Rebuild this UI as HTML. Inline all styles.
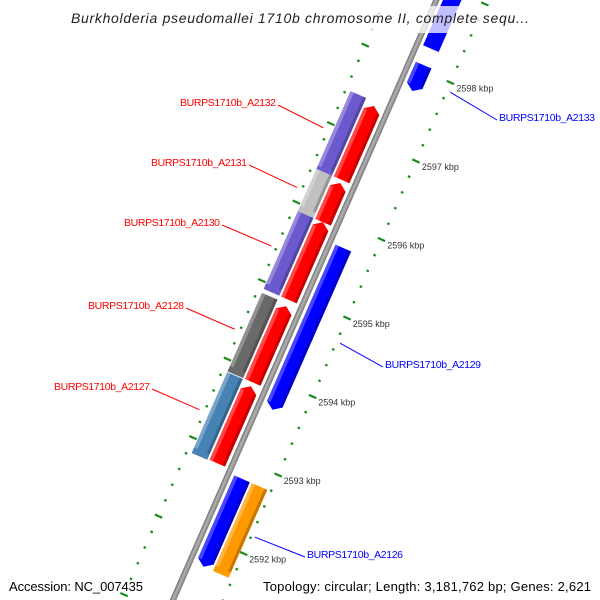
<!DOCTYPE html>
<html><head><meta charset="utf-8"><style>
html,body{margin:0;padding:0;background:#fff;overflow:hidden;width:600px;height:600px;}
svg{display:block;overflow:hidden;font-family:"Liberation Sans","DejaVu Sans",sans-serif;}
</style></head><body>
<svg id="map" width="600" height="600" viewBox="0 0 600 600" xmlns="http://www.w3.org/2000/svg">
<defs>
<linearGradient id="bbgrad" x1="0" x2="1" y1="0" y2="0">
<stop offset="0" stop-color="#6f6f6f"/><stop offset="0.45" stop-color="#b4b4b4"/><stop offset="1" stop-color="#777"/>
</linearGradient>
<clipPath id="frame"><rect x="0" y="0" width="600" height="600"/></clipPath>
</defs>
<rect width="600" height="600" fill="#fff"/>
<g clip-path="url(#frame)">
<g id="rot" transform="translate(436.4,0) rotate(23.7)"></g>
<g id="ann"></g>
</g>
<rect x="62" y="6" width="476" height="27" fill="#fff" fill-opacity="0.75"/>
<text x="300" y="23" text-anchor="middle" font-size="14" font-style="italic" fill="#222" textLength="458">Burkholderia pseudomallei 1710b chromosome II, complete sequ...</text>
<text x="9" y="591" font-size="13" fill="#000" textLength="134">Accession: NC_007435</text>
<text x="263" y="591" font-size="13" fill="#000" textLength="328">Topology: circular; Length: 3,181,762 bp; Genes: 2,621</text>
</svg>
<script>
// ---- data ----
const featNames  = ["BURPS1710b_A2132","BURPS1710b_A2131","BURPS1710b_A2130","BURPS1710b_A2128","BURPS1710b_A2127",
                    "BURPS1710b_A2132","BURPS1710b_A2131","BURPS1710b_A2130","BURPS1710b_A2128","BURPS1710b_A2127",
                    "BURPS1710b_A2134","BURPS1710b_A2133","BURPS1710b_A2129","BURPS1710b_A2126","BURPS1710b_A2126"];
const featStarts = [2596.45,2595.91,2594.92,2593.87,2592.84, 2596.42,2595.91,2594.92,2593.87,2592.83, 2599.3,2597.73,2593.67,2591.67,2591.67];
const featEnds   = [2597.39,2596.41,2595.91,2594.84,2593.82, 2597.44,2596.45,2595.91,2594.87,2593.86, 2598.27,2598.06,2595.73,2592.79,2592.79];
const featTracks = ["fwdCDS","fwdCDS","fwdCDS","fwdCDS","fwdCDS","fwdCOG","fwdCOG","fwdCOG","fwdCOG","fwdCOG","revCDS","revCDS","revCDS","revCDS","revCOG"];
const featColors = ["#ff0000","#ff0000","#ff0000","#ff0000","#ff0000","#6a5acd","#c0c0c0","#6a5acd","#696969","#4682b4","#0000ff","#0000ff","#0000ff","#0000ff","#ff9900"];
const majorTicks = [2592,2593,2594,2595,2596,2597,2598];
const tickLabels = ["2592 kbp","2593 kbp","2594 kbp","2595 kbp","2596 kbp","2597 kbp","2598 kbp"];
const labelFeatIdx = [0,1,2,3,4,11,12,13];
const labelSides   = ["L","L","L","L","L","R","R","R"];

// ---- layout ----
const COS=0.91566, SIN=0.40195;
function y0(kb){return 378+(2594-kb)*78.5;}
function sPos(kb){return y0(kb)/COS;}
function screen(kb,v){const y=y0(kb);return [436.4-0.44*y+COS*v, y+SIN*v];}
const trackV={fwdCDS:[-23,-6],fwdCOG:[-42,-25],revCDS:[6,23],revCOG:[25,42]};
const NS="http://www.w3.org/2000/svg";
const rot=document.getElementById('rot'), ann=document.getElementById('ann');
function mk(tag,attrs,parent){const e=document.createElementNS(NS,tag);for(const k in attrs)e.setAttribute(k,attrs[k]);parent.appendChild(e);return e;}

// backbone
const bb=mk('rect',{x:-3,y:-20,width:6,height:680,fill:'url(#bbgrad)'},rot);



// ticks
for(let i=Math.round(2591.0*5);i<=Math.round(2599.4*5);i++){
  const kb=i/5, s=sPos(kb), major=(i%5===0);
  [-47,46].forEach(v=>{
    const len=major?8:2.5, w=2.2;
    const t=mk('rect',{x:v-len/2,y:s-w/2,width:len,height:w,fill:'#1a8a1a'},rot);
    
    
  });
}
majorTicks.forEach((kb,i)=>{
  const p=screen(kb,46);
  const t=mk('text',{x:p[0]+6,y:p[1]+9,'font-size':9,fill:'#333'},ann);
  t.textContent=tickLabels[i];
  
  
});

// features
featNames.forEach((n,i)=>{
  const tr=featTracks[i], vv=trackV[tr];
  const sTop=sPos(featEnds[i]), sBot=sPos(featStarts[i]);
  const g=mk('g',{},rot);
  
  
  const a=vv[0], b=vv[1], m=(a+b)/2, H=6;
  let d;
  if(tr==='fwdCDS') d=`M${a},${sBot} L${a},${sTop+H} L${m},${sTop} L${b},${sTop+H} L${b},${sBot} Z`;
  else if(tr==='revCDS') d=`M${a},${sTop} L${a},${sBot-H} L${m},${sBot} L${b},${sBot-H} L${b},${sTop} Z`;
  else d=`M${a},${sTop} L${b},${sTop} L${b},${sBot} L${a},${sBot} Z`;
  mk('path',{d:d,fill:featColors[i]},g);
  const w=b-a;
  const y1=sTop+(tr==='fwdCDS'?H:0);
  const hh=Math.max(0,sBot-sTop-H);
  mk('rect',{x:a,y:y1,width:w*0.22,height:hh,fill:'#fff','fill-opacity':0.28},g);
  mk('rect',{x:b-w*0.18,y:y1,width:w*0.18,height:hh,fill:'#000','fill-opacity':0.22},g);
});

// labels
const labelPos=[[276,106],[247,166],[220,226],[184,309],[150,390],[499,121],[385,368],[307,558]];
labelFeatIdx.forEach((fi,j)=>{
  const side=labelSides[j], kbMid=(featStarts[fi]+featEnds[fi])/2;
  const col=side==='L'?'#ff0000':'#0000ff';
  const tgt=screen(kbMid,side==='L'?-52:50);
  const lp=labelPos[j];
  const ln=mk('line',{x1:side==='L'?lp[0]+2:lp[0]-2,y1:lp[1]-1,x2:tgt[0],y2:tgt[1],stroke:col,'stroke-width':1},ann);
  
  
  const t=mk('text',{x:lp[0],y:lp[1],'font-size':10.5,fill:col,'text-anchor':side==='L'?'end':'start',textLength:96},ann);
  t.textContent=featNames[fi];
  
  
});
</script>
</body></html>
